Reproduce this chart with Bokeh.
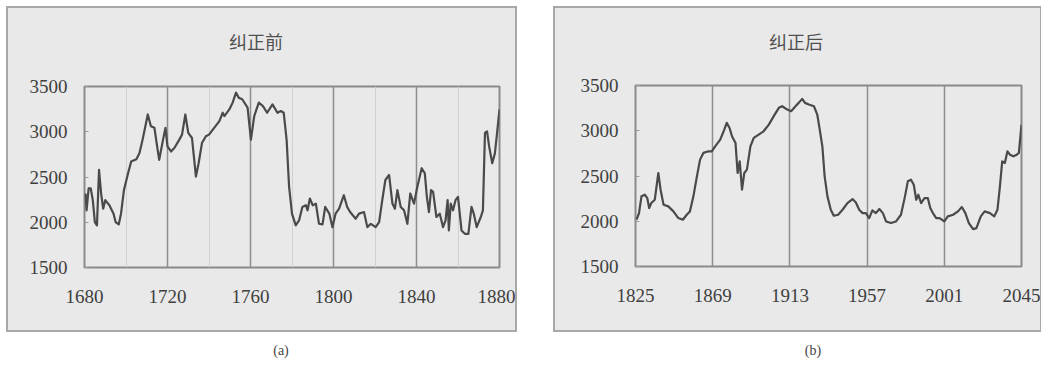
from bokeh.plotting import figure
from bokeh.models import FixedTicker, Div
from bokeh.layouts import row, column
from bokeh.embed import file_html
from bokeh.resources import INLINE

# ---- data ----
years_a = [1680.5, 1681, 1682, 1683, 1684, 1685, 1686, 1687, 1688, 1689, 1690, 1692, 1694, 1695,
           1696.5, 1697.6, 1699, 1701, 1702.5, 1705, 1706.5, 1708, 1710.5, 1712, 1713.7, 1715, 1716,
           1717.7, 1719, 1720, 1721.7, 1723.3, 1725.7, 1727, 1728.6, 1730, 1731.8, 1733.7, 1735,
           1736.6, 1738.5, 1740, 1742.5, 1745, 1746.6, 1747.4, 1749.8, 1751.4, 1753, 1754.3, 1756,
           1758.6, 1760.2, 1761.8, 1764, 1766, 1768, 1770.6, 1773, 1774.6, 1776, 1777.4, 1778.6,
           1780, 1781.8, 1783.4, 1785, 1786.7, 1787.5, 1788.6, 1790, 1791.5, 1793, 1794.7, 1796,
           1798, 1799.5, 1801, 1802.7, 1805, 1806.6, 1808, 1810.7, 1812.3, 1814.7, 1816.3, 1818,
           1820.3, 1822, 1823.5, 1825, 1826.8, 1828.4, 1829.6, 1830.8, 1832.4, 1834, 1835.6, 1837,
           1838.8, 1840.4, 1842.5, 1844, 1845, 1846, 1847, 1848, 1849.6, 1851.2, 1852.8, 1854, 1855,
           1855.6, 1856.5, 1857.6, 1858.8, 1860, 1861.7, 1863.3, 1865, 1866.5, 1867.6, 1869, 1871,
           1872, 1873, 1874, 1875, 1876.5, 1877.8, 1879, 1880]
values_a = [2318, 2132, 2374, 2374, 2244, 2002, 1965, 2578, 2318, 2150, 2244, 2188, 2095, 2002,
            1976, 2095, 2355, 2541, 2671, 2697, 2764, 2913, 3191, 3061, 3043, 2838, 2690,
            2894, 3043, 2838, 2782, 2820, 2913, 2968, 3191, 2987, 2931, 2504, 2652,
            2875, 2950, 2968, 3043, 3117, 3210, 3173, 3247, 3322, 3433, 3377, 3359,
            3266, 2913, 3173, 3322, 3284, 3210, 3303, 3210, 3229, 3210, 2913, 2392,
            2095, 1965, 2020, 2169, 2188, 2132, 2262, 2188, 2206, 1983, 1976, 2169,
            2095, 1946, 2095, 2150, 2299, 2169, 2113, 2039, 2095, 2113, 1946, 1983,
            1946, 2002, 2244, 2467, 2522, 2206, 2150, 2355, 2169, 2132, 1983, 2318,
            2206, 2392, 2597, 2541, 2281, 2113, 2355, 2336, 2058, 2095, 1946, 2020, 2244,
            1909, 2206, 2132, 2244, 2281, 1909, 1872, 1872, 2169, 2095, 1946, 2058,
            2132, 2987, 3005, 2838, 2652, 2764, 3024, 3247]

years_b = [1825.6, 1827, 1828.4, 1830.3, 1831.7, 1832.8, 1834, 1836, 1838, 1839.3, 1841, 1843.7,
           1846.6, 1849.4, 1852, 1854.2, 1856, 1858, 1860, 1861.8, 1863.7, 1866.6, 1868.5, 1870.4,
           1873.3, 1875.6, 1877, 1878.6, 1880, 1882, 1883.2, 1884.4, 1885.7, 1887, 1888.5, 1890.5,
           1892.4, 1895.2, 1898, 1901, 1903.8, 1906.7, 1908.6, 1911.5, 1913.7, 1916.2, 1918, 1920,
           1921.6, 1923.8, 1926.7, 1928.6, 1930, 1931.5, 1932.8, 1934.4, 1936.3, 1938, 1940.5, 1943,
           1945.8, 1948.7, 1950.6, 1952.5, 1954.4, 1956.3, 1958.2, 1960, 1962, 1964, 1966, 1967.8,
           1970.6, 1973.5, 1976.3, 1978.6, 1980.2, 1982, 1983.6, 1985, 1986.2, 1987.8, 1989.7,
           1991.6, 1993, 1994.5, 1996.4, 1998.3, 2001, 2003, 2006, 2008.8, 2011, 2013, 2015, 2017.4,
           2019.3, 2021.8, 2024, 2027, 2029.5, 2031.3, 2032.7, 2034, 2035.5, 2037, 2038.4, 2040.4,
           2042.3, 2043.5, 2045]
values_b = [2017, 2090, 2275, 2293, 2256, 2146, 2201, 2238, 2533, 2349, 2183, 2164,
            2109, 2035, 2017, 2072, 2109, 2275, 2496, 2681, 2755, 2773, 2773, 2828,
            2902, 3013, 3087, 3031, 2939, 2865, 2533, 2662, 2349, 2533, 2570, 2828,
            2921, 2958, 2994, 3068, 3161, 3253, 3271, 3234, 3216, 3271, 3308, 3352,
            3308, 3290, 3271, 3179, 3013, 2828, 2496, 2275, 2127, 2061, 2072, 2127,
            2201, 2245, 2208, 2127, 2090, 2090, 2035, 2120, 2090, 2135, 2090, 1998,
            1980, 1998, 2072, 2275, 2441, 2459, 2404, 2238, 2293, 2201, 2256,
            2256, 2146, 2090, 2035, 2035, 1998, 2054, 2072, 2109, 2157, 2090, 1980, 1913,
            1924, 2054, 2109, 2090, 2054, 2127, 2386, 2662, 2644, 2773, 2736, 2718,
            2736, 2755, 3068]

ticks_a = [1680, 1720, 1760, 1800, 1840, 1880]
minor_a = [1700, 1740, 1780, 1820, 1860]
ticks_b = [1825, 1869, 1913, 1957, 2001, 2045]
yticks = [1500, 2000, 2500, 3000, 3500]
titles = ["纠正前", "纠正后"]
captions = ["(a)", "(b)"]

BG = "#e9e9e9"
SERIF = "Liberation Serif"
TITLE_H = 50


def make_panel(xs, ys, xticks, xminor, title, title_pad, width, left, right, top, bottom):
    x0, x1 = xticks[0], xticks[-1]
    p = figure(width=width, height=272, output_backend="svg", toolbar_location=None,
               x_range=(x0, x1), y_range=(1500, 3500),
               min_border_left=left, min_border_right=right,
               min_border_top=top, min_border_bottom=bottom, margin=0)
    p.background_fill_color = BG
    p.border_fill_color = BG
    p.outline_line_color = "#8a8a8a"
    p.outline_line_width = 2
    p.xaxis.ticker = FixedTicker(ticks=xticks, minor_ticks=xminor)
    p.yaxis.ticker = FixedTicker(ticks=yticks)
    for ax in (p.xaxis[0], p.yaxis[0]):
        ax.axis_line_color = None
        ax.major_tick_in = 4
        ax.major_tick_out = 0
        ax.minor_tick_in = 0
        ax.minor_tick_out = 0
        ax.major_tick_line_color = "#9a9a9a"
        ax.major_label_text_font = SERIF
        ax.major_label_text_font_size = "19px"
        ax.major_label_text_color = "#404040"
    p.xaxis.major_tick_line_color = None
    p.xaxis.major_label_standoff = 22
    p.yaxis.major_label_standoff = 17
    p.xgrid.ticker = FixedTicker(ticks=xticks, minor_ticks=xminor)
    p.xgrid.grid_line_color = "#8f8f8f"
    p.xgrid.grid_line_width = 1.5
    p.xgrid.minor_grid_line_color = "#d0d0d0" if xminor else None
    p.xgrid.minor_grid_line_width = 1
    p.ygrid.grid_line_color = None
    p.line(xs, ys, line_color="#4a4a4a", line_width=2.2, line_join="round")

    head = Div(text=title, width=width, height=TITLE_H, margin=0,
               styles={"font-family": "Noto Sans CJK SC", "font-size": "18px",
                       "color": "#505050", "line-height": "24px",
                       "padding-top": "21px", "padding-left": f"{title_pad}px",
                       "box-sizing": "border-box", "background-color": BG})
    return column(head, p, spacing=0, margin=0,
                  styles={"border": "2px solid #a8a8a8", "background-color": BG})


panel_a = make_panel(years_a, values_a, ticks_a, minor_a, titles[0], 221, 507, 76, 16, 28, 63)
panel_b = make_panel(years_b, values_b, ticks_b, [], titles[1], 214, 485, 80, 19, 27, 64)

cap_style = {"font-family": SERIF, "font-size": "14px", "color": "#444",
             "text-align": "center", "box-sizing": "border-box", "line-height": "17px"}
c1 = Div(text=captions[0], width=511, height=20, margin=0,
         styles=dict(cap_style, **{"padding-left": "39px"}))
c2 = Div(text=captions[1], width=489, height=20, margin=0,
         styles=dict(cap_style, **{"padding-left": "31px"}))

layout = column(row(panel_a, panel_b, spacing=36), row(c1, c2, spacing=36), spacing=10,
                margin=(6, 0, 0, 6))
open("out.html", "w").write(file_html(layout, INLINE))
